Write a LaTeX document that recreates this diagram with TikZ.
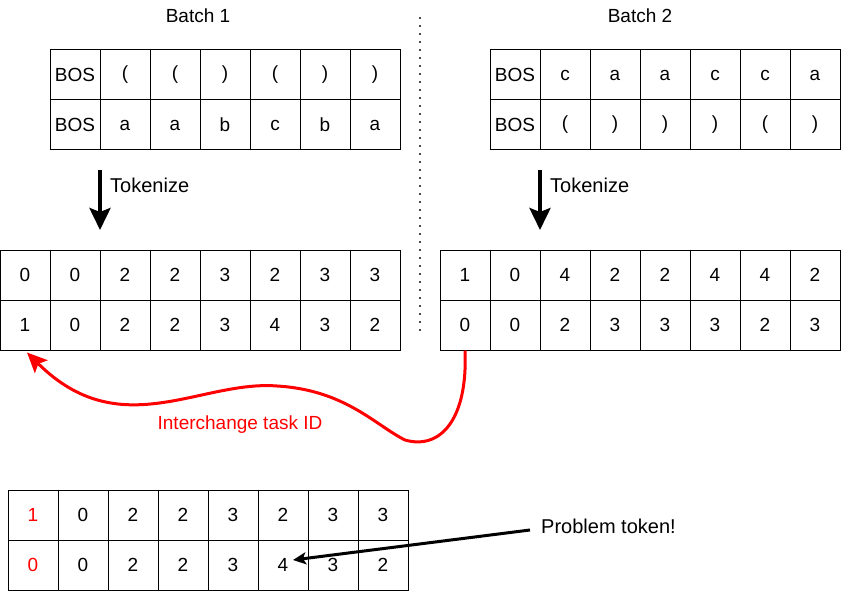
\documentclass[tikz,border=0pt]{standalone}
\usepackage{fontspec}
\setmainfont{Liberation Sans}
\usetikzlibrary{arrows.meta}
\newcommand{\openp}{(}
\newcommand{\closep}{)}
\begin{document}
\begin{tikzpicture}[x=1pt,y=-1pt,
  font=\fontsize{19}{22}\selectfont,
  cell/.style={draw,line width=1pt,minimum width=50pt,minimum height=50pt,inner sep=0pt},
  note/.style={right,inner sep=0pt,font=\fontsize{20}{23}\selectfont},
  tokarrow/.style={line width=4pt,-{Stealth[length=22pt,width=21pt,inset=4pt]}},
  swaparrow/.style={red,line width=3pt,-{Stealth[length=20pt,width=18pt,inset=4pt]}},
  probarrow/.style={line width=3pt,-{Stealth[length=13pt,width=12pt,inset=3pt]}}]
\useasboundingbox (0,0) rectangle (841,591);
\node (batch1) at (198,16) {Batch 1};
\node (batch2) at (640,16) {Batch 2};
\foreach \v [count=\i] in {BOS,\openp,\openp,\closep,\openp,\closep,\closep}
{\node[cell] (src1-1-\i) at ({25+50*\i},75) {\v};}
\foreach \v [count=\i] in {BOS,a,a,b,c,b,a}
{\node[cell] (src1-2-\i) at ({25+50*\i},125) {\v};}
\foreach \v [count=\i] in {BOS,c,a,a,c,c,a}
{\node[cell] (src2-1-\i) at ({465+50*\i},75) {\v};}
\foreach \v [count=\i] in {BOS,\openp,\closep,\closep,\closep,\openp,\closep}
{\node[cell] (src2-2-\i) at ({465+50*\i},125) {\v};}
\coordinate (tok1-s) at (100,170);
\coordinate (tok1-e) at (100,230);
\coordinate (tok2-s) at (540,170);
\coordinate (tok2-e) at (540,230);
\draw[tokarrow] (tok1-s) -- (tok1-e);
\draw[tokarrow] (tok2-s) -- (tok2-e);
\node[note] (tok1) at (110,185) {Tokenize};
\node[note] (tok2) at (550,185) {Tokenize};
\foreach \v [count=\i] in {0,0,2,2,3,2,3,3}
{\node[cell] (ids1-1-\i) at ({-25+50*\i},275) {\v};}
\foreach \v [count=\i] in {1,0,2,2,3,4,3,2}
{\node[cell] (ids1-2-\i) at ({-25+50*\i},325) {\v};}
\foreach \v [count=\i] in {1,0,4,2,2,4,4,2}
{\node[cell] (ids2-1-\i) at ({415+50*\i},275) {\v};}
\foreach \v [count=\i] in {0,0,2,3,3,3,2,3}
{\node[cell] (ids2-2-\i) at ({415+50*\i},325) {\v};}
\coordinate (sep-top) at (420,17);
\coordinate (sep-bot) at (420,331);
\draw[line width=2pt,dash pattern=on 2pt off 6pt,black!70] (sep-top) -- (sep-bot);
\draw[swaparrow] (ids2-2-1.south)
  .. controls (468,420) and (440,450) .. (405,440)
  .. controls (375,425) and (345,390) .. (277,386)
  .. controls (200,380) and (120,445) .. ([shift={(2pt,-2pt)}]ids1-2-1.south);
\node[red] (swap) at (240,425) {Interchange task ID};
\foreach \v [count=\i] in {\textcolor{red}{1},0,2,2,3,2,3,3}
{\node[cell] (mixed-1-\i) at ({-17+50*\i},515) {\v};}
\foreach \v [count=\i] in {\textcolor{red}{0},0,2,2,3,4,3,2}
{\node[cell] (mixed-2-\i) at ({-17+50*\i},565) {\v};}
\node[note,inner sep=2pt] (prob) at (539,526) {Problem token!};
\draw[probarrow] ([shift={(-9pt,-4pt)}]prob.west) -- ([shift={(10pt,5pt)}]mixed-2-6.center);
\end{tikzpicture}
\end{document}
